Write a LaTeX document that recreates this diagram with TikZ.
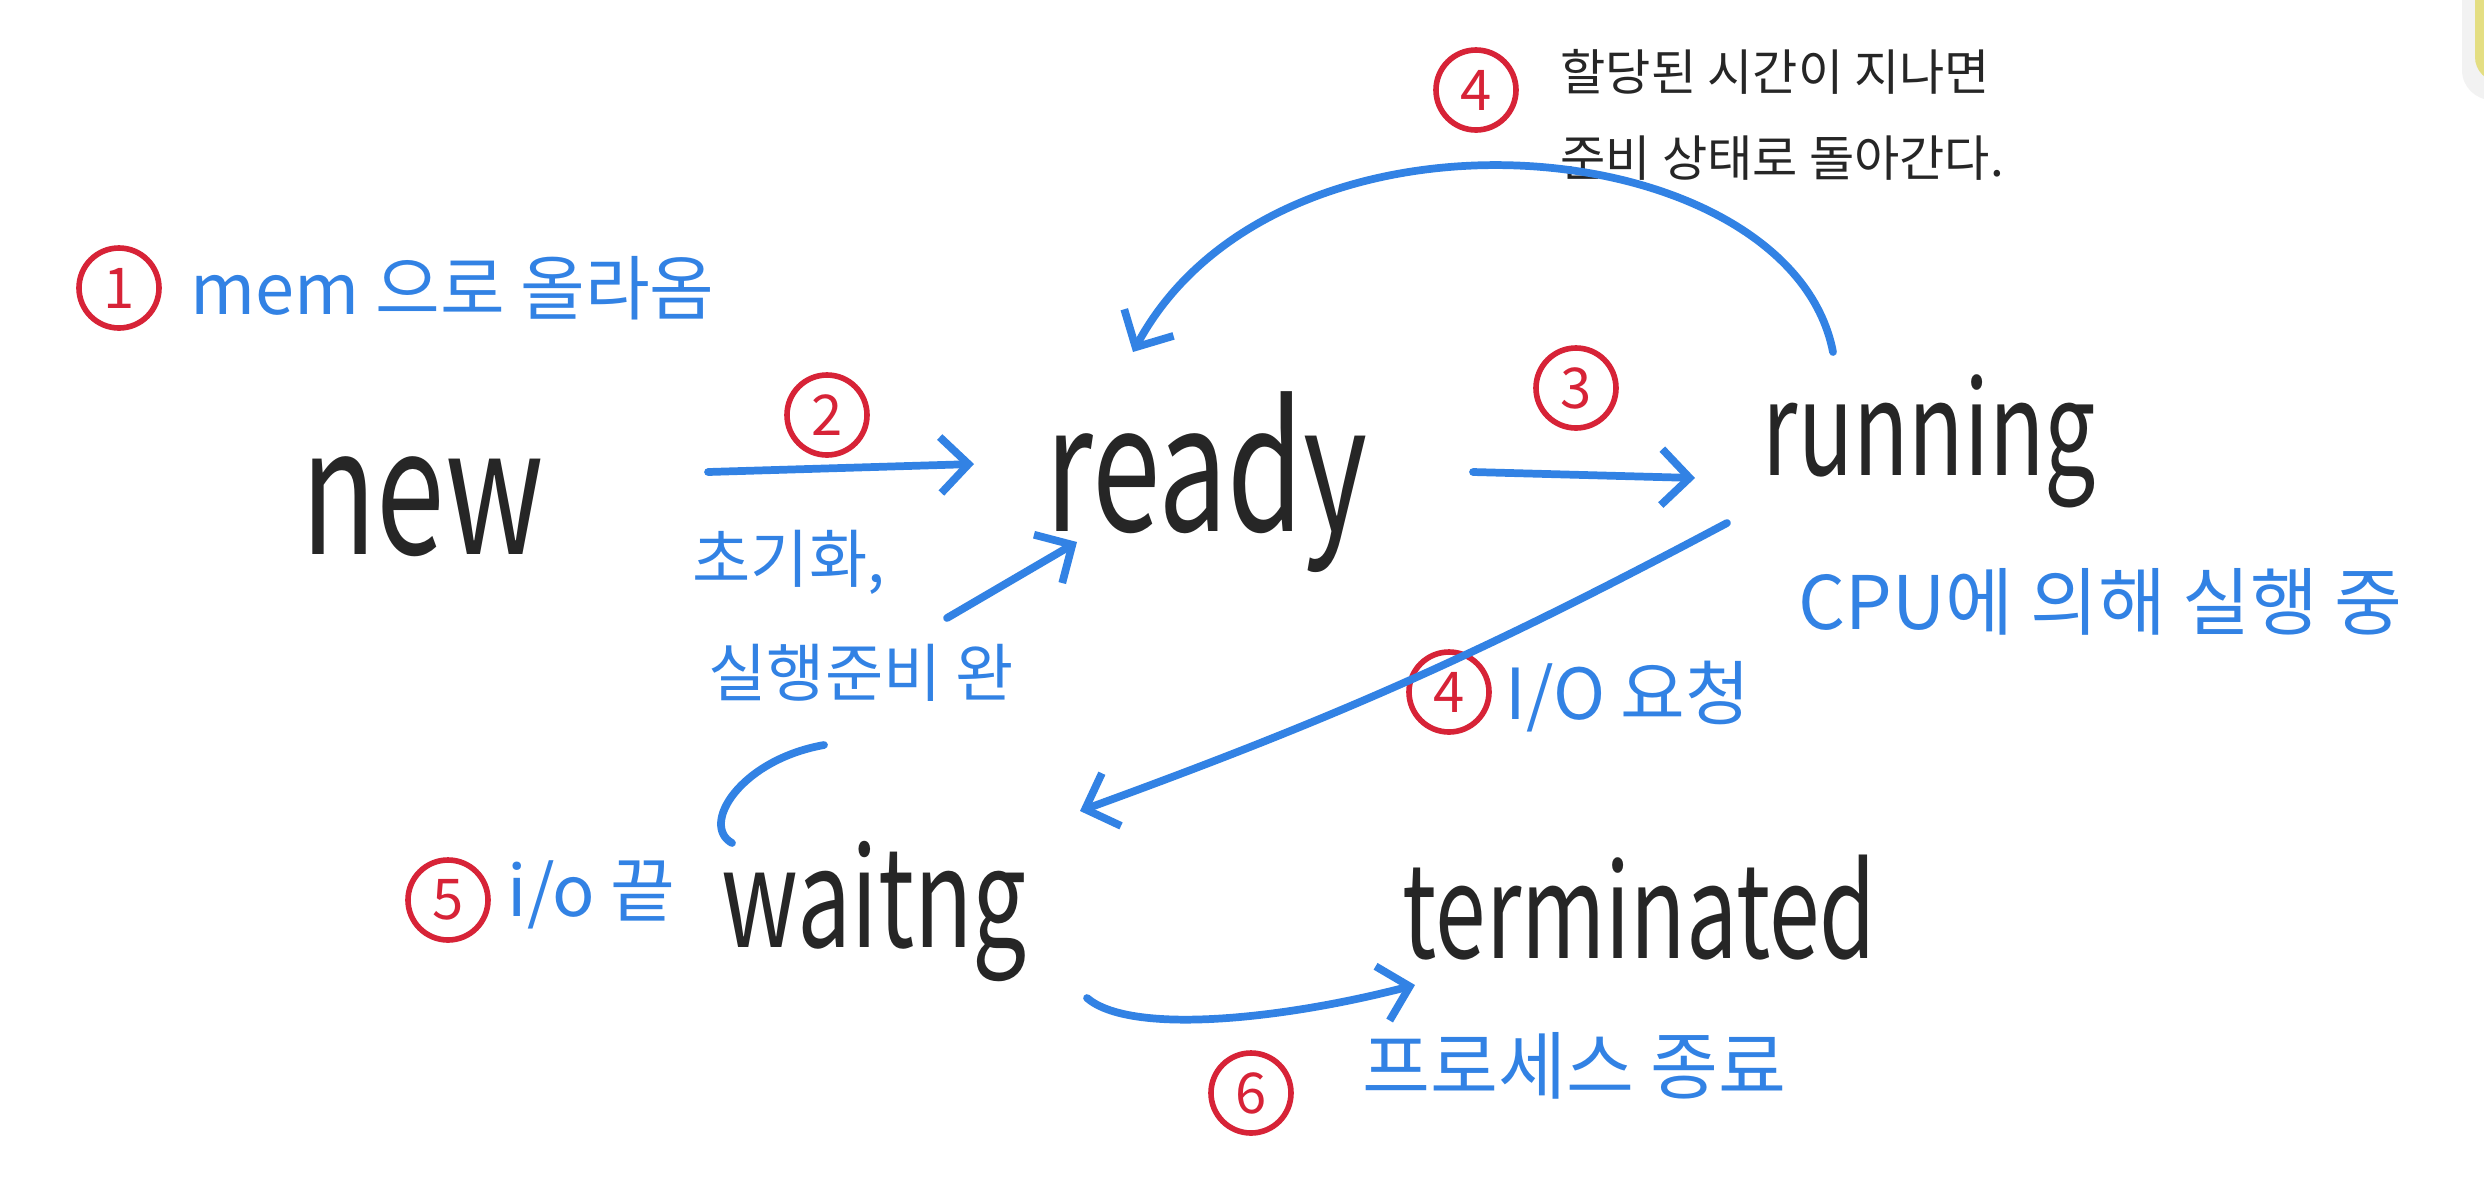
\documentclass[tikz,border=0pt]{standalone}
\usepackage{fontspec}
\setmainfont{Noto Sans CJK KR}
\newfontfamily\handfont[FakeStretch=0.7]{Noto Sans CJK KR}
\usetikzlibrary{arrows.meta,calc}
\definecolor{penBlue}{RGB}{50,130,228}
\definecolor{penRed}{RGB}{215,35,55}
\definecolor{penInk}{RGB}{38,38,38}
\definecolor{cornerYellow}{RGB}{228,222,130}

\begin{document}
\begin{tikzpicture}[
    state/.style={anchor=base west,inner sep=0pt,text=penInk,font=\handfont\fontsize{37}{40}\selectfont},
    badge/.style={circle,draw=penRed,text=penRed,line width=1.6pt,minimum size=0.8cm,inner sep=0pt,font=\fontsize{16}{16}\selectfont},
    note/.style={anchor=west,inner sep=0pt,text=penBlue,font=\fontsize{20}{22}\selectfont},
    stroke/.style={penBlue,line width=2.2pt,line cap=round},
    flow/.style={stroke,-{Straight Barb[length=2.8mm,width=5.6mm]}}
  ]
  \fill[white] (0,0) rectangle (24.84,-11.97);
  \useasboundingbox (0,0) rectangle (24.84,-11.97);
  \begin{scope}
    \clip (0,0) rectangle (24.84,-11.97);
    \fill[gray!10,rounded corners=0.3cm] (24.62,0.5) rectangle (25.4,-1.0);
    \fill[cornerYellow,rounded corners=0.25cm] (24.75,0.5) rectangle (25.4,-0.82);
  \end{scope}

  \node[state,font=\handfont\fontsize{50}{52}\selectfont] (new) at (3.01,-5.54) {new};
  \node[state,font=\handfont\fontsize{50}{52}\selectfont] (ready) at (10.45,-5.31) {ready};
  \node[state] (running) at (17.62,-4.75) {running};
  \node[state,font=\handfont\fontsize{39}{42}\selectfont] (waiting) at (7.21,-9.47) {waitng};
  \node[state] (terminated) at (14.02,-9.58) {terminated};

  \foreach \x/\y/\lab/\nm in {1.19/-2.88/1/one,8.27/-4.15/2/two,15.76/-3.88/3/three,14.76/-0.90/4/fourA,14.49/-6.92/4/fourB,4.48/-9.00/5/five,12.51/-10.93/6/six}
    \node[badge] (\nm) at (\x,\y) {\lab};

  \node[note] (memup) at (1.90,-2.88) {mem 으로 올라옴};
  \node[note,font=\fontsize{18}{20}\selectfont] (initdone) at (6.92,-5.62) {초기화,};
  \node[note,font=\fontsize{18}{20}\selectfont] (readydone) at (7.08,-6.73) {실행준비 완};
  \node[note,font=\fontsize{21}{23}\selectfont] (oncpu) at (17.98,-6.02) {CPU에 의해 실행 중};
  \node[note] (ioreq) at (15.05,-6.97) {I/O 요청};
  \node[note] (iodone) at (5.07,-8.95) {i/o 끝};
  \node[note,font=\fontsize{21}{23}\selectfont] (exitproc) at (13.62,-10.66) {프로세스 종료};
  \node[note,text=penInk,align=left,font=\fontsize{14}{24.5}\selectfont] (timeout) at (15.60,-1.145) {할당된 시간이 지나면\\준비 상태로 돌아간다.};

  \draw[flow] ($(new.base west)+(4.07,0.82)$) -- ($(ready.base west)+(-0.71,0.67)$);
  \draw[flow] ($(ready.base west)+(4.28,0.59)$) -- ($(running.base west)+(-0.67,-0.03)$);
  \draw[flow] ($(running.base west)+(0.71,1.23)$) .. controls (17.90,-1.30) and (12.80,-0.80) .. ($(ready.base west)+(0.88,1.79)$);
  \draw[flow] ($(running.base west)+(-0.35,-0.48)$) to[bend left=4] ($(waiting.base west)+(3.59,1.36)$);
  \coordinate (ioup) at (8.24,-7.45);
  \coordinate (iomid) at (9.47,-6.18);
  \draw[stroke] ($(waiting.base west)+(0.11,1.04)$) .. controls (7.00,-8.25) and (7.40,-7.60) .. (ioup);
  \draw[flow] (iomid) -- ($(ready.base west)+(0.32,-0.11)$);
  \draw[flow] ($(waiting.base west)+(3.66,-0.51)$) .. controls (11.30,-10.35) and (12.80,-10.20) .. ($(terminated.base west)+(0.13,-0.27)$);
\end{tikzpicture}
\end{document}
